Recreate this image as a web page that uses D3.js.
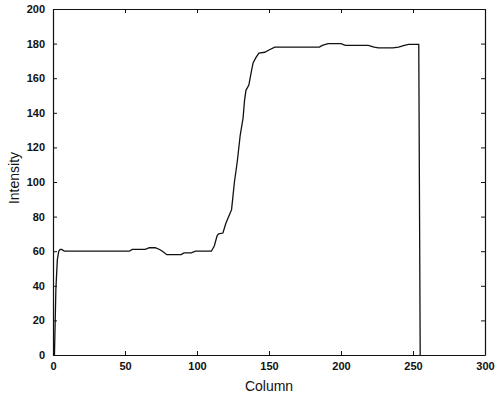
<!DOCTYPE html>
<html>
<head>
<meta charset="utf-8">
<script src="https://cdn.jsdelivr.net/npm/d3@7"></script>
<style>
  html, body { margin: 0; padding: 0; background: #fff; }
  svg { display: block; }
  .tick text { font-family: "Liberation Sans", Arial, sans-serif; font-size: 11px; font-weight: bold; fill: #111; }
  .label { font-family: "Liberation Sans", Arial, sans-serif; font-size: 14px; fill: #111; }
</style>
</head>
<body>
<script>
// Intensity profile along one image row
const column = [0, 1, 2, 3, 4, 5, 6, 7, 8, 53, 55, 64, 67, 71, 74, 76, 79, 89, 91, 96, 99, 110,
  112, 114, 115, 118, 120, 122, 124, 125, 126, 128, 130, 132, 133, 134, 136, 138, 139, 141, 143,
  147, 150, 154, 185, 187, 191, 200, 203, 219, 223, 226, 236, 240, 244, 247, 254, 255];
const intensity = [0, 0, 38, 55, 60, 61, 61, 60.5, 60, 60, 61, 61, 62, 62, 61, 60, 58, 58, 59, 59, 60, 60,
  63, 69, 70, 70.5, 76, 80, 84, 92, 100, 112, 127, 137, 147, 153, 156, 165, 169, 172, 174.5,
  175, 176.3, 178, 178, 179, 180, 180, 179, 179, 178, 177.5, 177.5, 178, 179, 179.5, 179.5, 0];

const xTicks = [0, 50, 100, 150, 200, 250, 300];
const yTicks = [0, 20, 40, 60, 80, 100, 120, 140, 160, 180, 200];

const W = 497, H = 397;
const plotLeft = 53, plotRight = 485, plotTop = 9, plotBottom = 355;

const svg = d3.select("body").append("svg").attr("width", W).attr("height", H);

const x = d3.scaleLinear().domain([0, 300]).range([plotLeft, plotRight]);
const y = d3.scaleLinear().domain([0, 200]).range([plotBottom, plotTop]);

const points = column.map((c, i) => [c, intensity[i]]);

// profile line
svg.append("path")
  .datum(points)
  .attr("fill", "none")
  .attr("stroke", "#111")
  .attr("stroke-width", 1.3)
  .attr("d", d3.line().x(d => x(d[0])).y(d => y(d[1])));

function styleAxis(g) {
  g.select(".domain").attr("stroke", "#111").attr("stroke-width", 1.2);
  g.selectAll(".tick line").attr("stroke", "#111");
}

// bottom axis with labels
svg.append("g")
  .attr("transform", `translate(0,${plotBottom})`)
  .call(d3.axisBottom(x).tickValues(xTicks).tickSize(-4).tickPadding(7).tickSizeOuter(0))
  .call(styleAxis);

// left axis with labels
svg.append("g")
  .attr("transform", `translate(${plotLeft},0)`)
  .call(d3.axisLeft(y).tickValues(yTicks).tickSize(-4).tickPadding(8).tickSizeOuter(0))
  .call(styleAxis);

// top and right frame with mirrored ticks
svg.append("g")
  .attr("transform", `translate(0,${plotTop})`)
  .call(d3.axisTop(x).tickValues(xTicks).tickSize(-4).tickFormat("").tickSizeOuter(0))
  .call(styleAxis);

svg.append("g")
  .attr("transform", `translate(${plotRight},0)`)
  .call(d3.axisRight(y).tickValues(yTicks).tickSize(-4).tickFormat("").tickSizeOuter(0))
  .call(styleAxis);

// axis titles
svg.append("text")
  .attr("class", "label")
  .attr("x", (plotLeft + plotRight) / 2)
  .attr("y", 391)
  .attr("text-anchor", "middle")
  .text("Column");

svg.append("text")
  .attr("class", "label")
  .attr("transform", `translate(19,${(plotTop + plotBottom) / 2 - 4}) rotate(-90)`)
  .attr("text-anchor", "middle")
  .text("Intensity");
</script>
</body>
</html>
